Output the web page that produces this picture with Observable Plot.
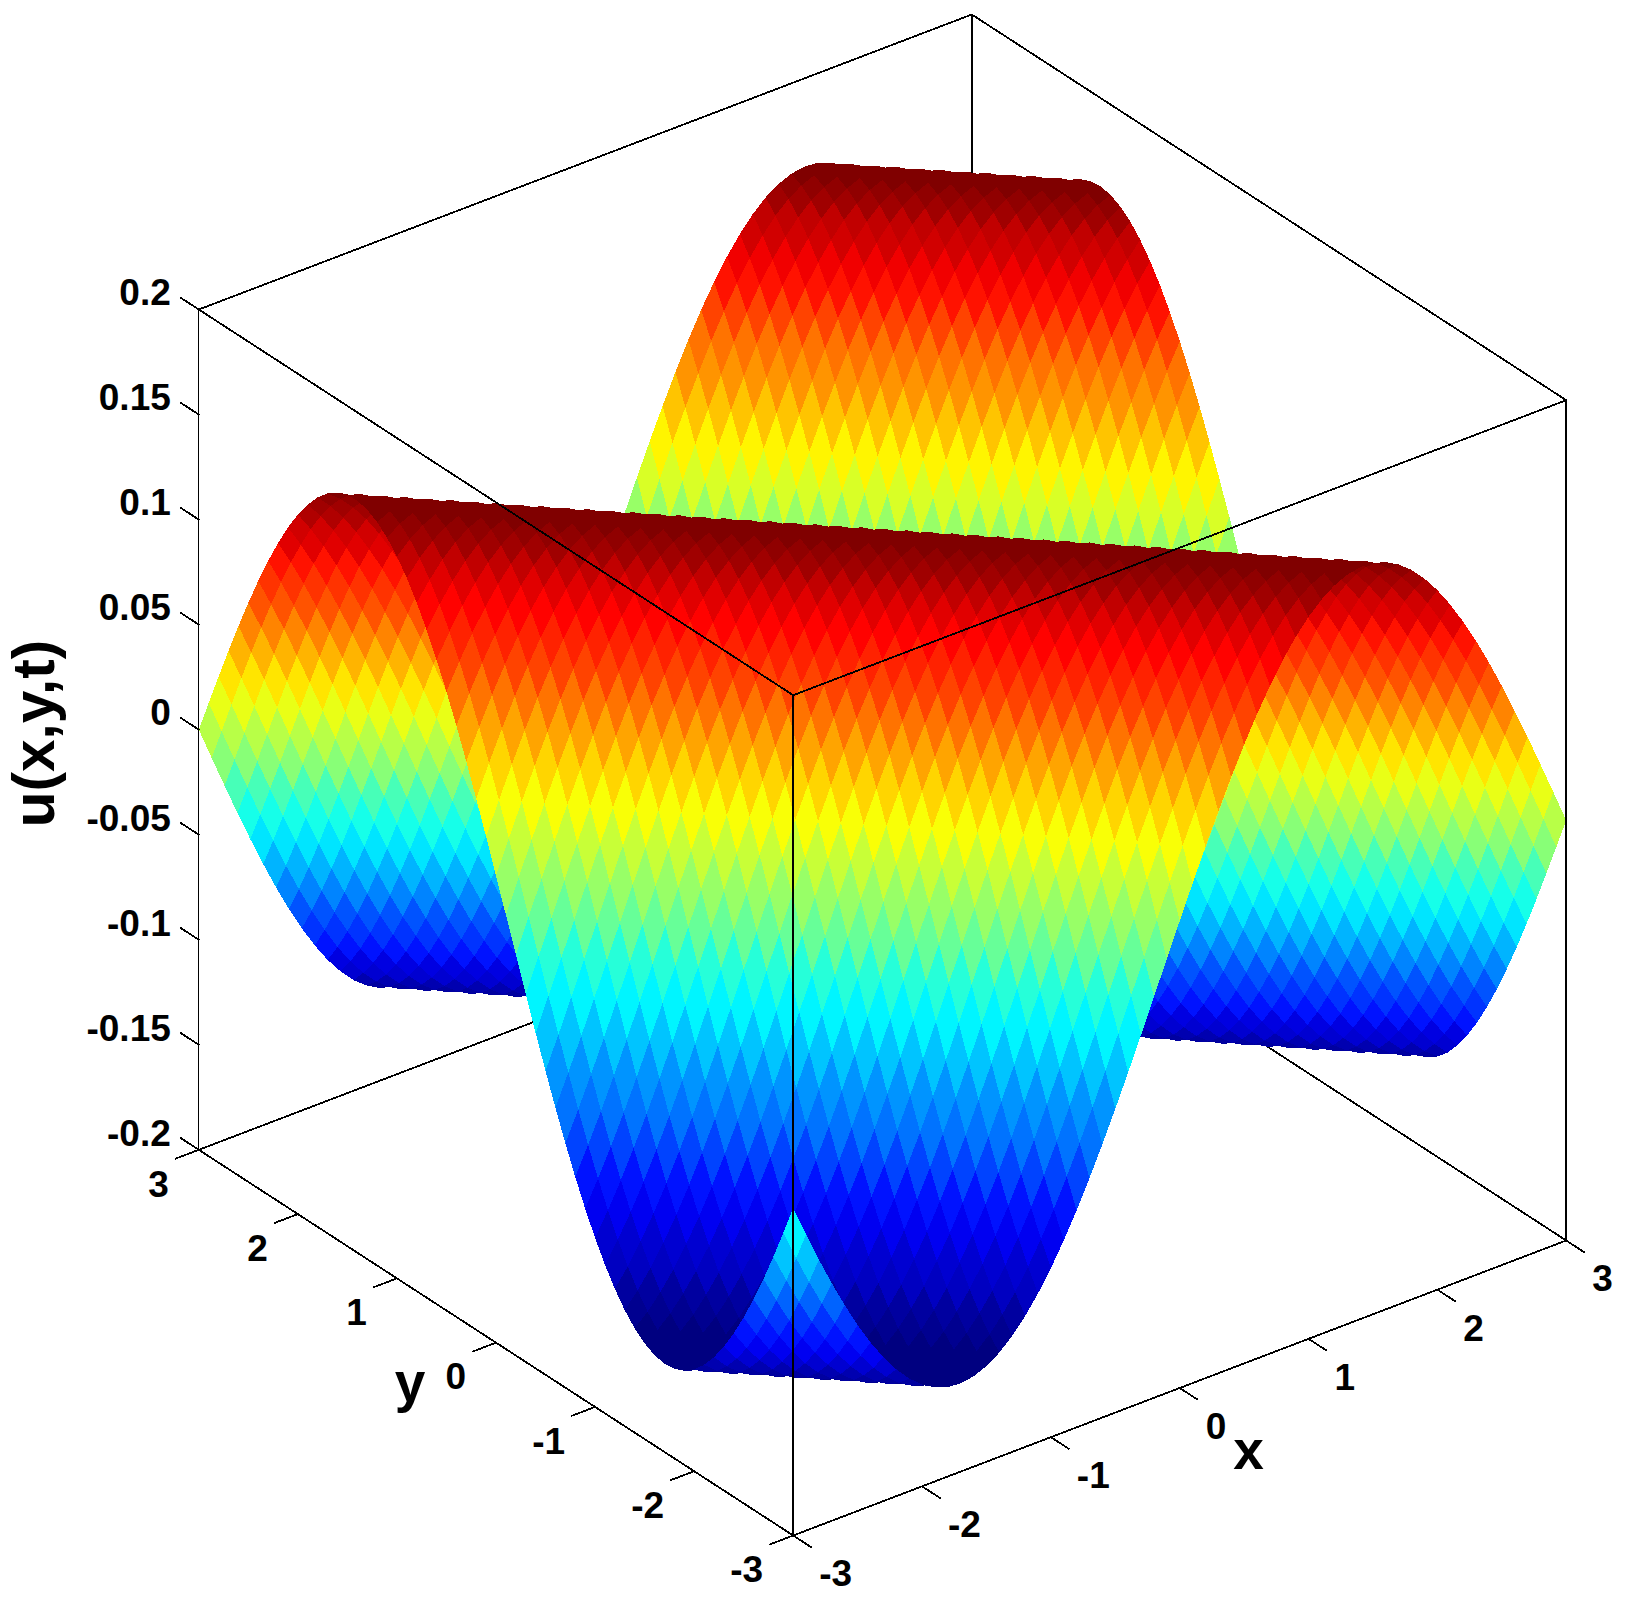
<!DOCTYPE html>
<html>
<head>
<meta charset="utf-8">
<script src="https://cdn.jsdelivr.net/npm/d3@7"></script>
<script src="https://cdn.jsdelivr.net/npm/@observablehq/plot@0.6"></script>
<style>
html,body{margin:0;padding:0;background:#fff;}
svg{display:block;}
</style>
</head>
<body>
<div id="chart"></div>
<script>
// ---- data ----
const gridX = d3.range(61).map(i => -3 + i / 10);
const gridY = d3.range(61).map(i => -3 + i / 10);
// height of the surface along x+y, from x+y = -6 to x+y = 6 in steps of 0.1
const heightAlongDiagonal = [
 -0.0441,-0.0591,-0.0734,-0.0870,-0.0997,-0.1115,-0.1221,-0.1315,-0.1396,-0.1463,
 -0.1515,-0.1552,-0.1574,-0.1580,-0.1570,-0.1544,-0.1504,-0.1448,-0.1377,-0.1293,
 -0.1196,-0.1087,-0.0967,-0.0837,-0.0699,-0.0554,-0.0404,-0.0249,-0.0092,0.0066,
 0.0223,0.0378,0.0529,0.0675,0.0815,0.0946,0.1067,0.1178,0.1277,0.1364,
 0.1437,0.1495,0.1539,0.1567,0.1579,0.1576,0.1557,0.1522,0.1473,0.1408,
 0.1330,0.1238,0.1133,0.1018,0.0892,0.0757,0.0615,0.0467,0.0314,0.0158,
 0,
 -0.0158,-0.0314,-0.0467,-0.0615,-0.0757,-0.0892,-0.1018,-0.1133,-0.1238,-0.1330,
 -0.1408,-0.1473,-0.1522,-0.1557,-0.1576,-0.1579,-0.1567,-0.1539,-0.1495,-0.1437,
 -0.1364,-0.1277,-0.1178,-0.1067,-0.0946,-0.0815,-0.0675,-0.0529,-0.0378,-0.0223,
 -0.0066,0.0092,0.0249,0.0404,0.0554,0.0699,0.0837,0.0967,0.1087,0.1196,
 0.1293,0.1377,0.1448,0.1504,0.1544,0.1570,0.1580,0.1574,0.1552,0.1515,
 0.1463,0.1396,0.1315,0.1221,0.1115,0.0997,0.0870,0.0734,0.0591,0.0441
];
const xTicks = [-3,-2,-1,0,1,2,3];
const yTicks = [-3,-2,-1,0,1,2,3];
const zTicks = [-0.2,-0.15,-0.1,-0.05,0,0.05,0.1,0.15,0.2];
const xTickLabels = ["-3","-2","-1","0","1","2","3"];
const yTickLabels = ["-3","-2","-1","0","1","2","3"];
const zTickLabels = ["-0.2","-0.15","-0.1","-0.05","0","0.05","0.1","0.15","0.2"];
const xTitle = "x", yTitle = "y", zTitle = "u(x,y,t)";

// ---- jet colormap, 64 levels ----
const jetStops = [[0,"#000080"],[0.125,"#0000ff"],[0.375,"#00ffff"],[0.625,"#ffff00"],[0.875,"#ff0000"],[1,"#800000"]];
const jetFn = d3.scaleLinear().domain(jetStops.map(d => d[0])).range(jetStops.map(d => d[1]));
const jet64 = d3.range(64).map(i => d3.rgb(jetFn(i / 63)).formatHex());

// ---- oblique view of the box (orthographic) ----
const W = 1641, H = 1611;
const origin = [792.7, 1535];                 // x=-3, y=-3, z=-0.2
const perX = [773 / 6, -295 / 6];
const perY = [-594.4 / 6, -385.7 / 6];
const perZ = -840.3 / 0.4;
const px = (x, y) => origin[0] + (x + 3) * perX[0] + (y + 3) * perY[0];
const py = (x, y, z) => origin[1] + (x + 3) * perX[1] + (y + 3) * perY[1] + (z + 0.2) * perZ;

// ---- surface cells, far to near ----
const cells = [];
for (let i = gridX.length - 2; i >= 0; i--) {
  for (let j = gridY.length - 2; j >= 0; j--) {
    const id = i * 100 + j;
    const value = heightAlongDiagonal[i + j];
    for (const [a, b] of [[i, j], [i + 1, j], [i + 1, j + 1], [i, j + 1]]) {
      const z = heightAlongDiagonal[a + b];
      cells.push({id, value, sx: px(gridX[a], gridY[b]), sy: py(gridX[a], gridY[b], z)});
    }
  }
}

// ---- box edges ----
const seg = (name, p, q) => [p, q].map(([x, y, z]) => ({edge: name, sx: px(x, y), sy: py(x, y, z)}));
const zLo = -0.2, zHi = 0.2;
const backEdges = [
  ...seg("b1", [3, 3, zLo], [-3, 3, zLo]),
  ...seg("b2", [3, 3, zLo], [3, -3, zLo])
];
const backVertical = seg("b3", [3, 3, zLo], [3, 3, zHi]);
const frontEdges = [
  ...seg("f1", [-3, -3, zLo], [3, -3, zLo]),
  ...seg("f2", [-3, -3, zLo], [-3, 3, zLo]),
  ...seg("f6", [-3, -3, zHi], [3, -3, zHi]),
  ...seg("f7", [-3, -3, zHi], [-3, 3, zHi]),
  ...seg("f8", [3, 3, zHi], [3, -3, zHi]),
  ...seg("f9", [3, 3, zHi], [-3, 3, zHi])
];
const heavyVerticals = [
  ...seg("f3", [-3, -3, zLo], [-3, -3, zHi]),
  ...seg("f4", [3, -3, zLo], [3, -3, zHi])
];
const thinVertical = seg("f5", [-3, 3, zLo], [-3, 3, zHi]);
const tickLen = 0.18;
const tickSegs = [
  ...xTicks.flatMap((t, i) => seg("tx" + i, [t, -3, zLo], [t, -3 - tickLen, zLo])),
  ...yTicks.flatMap((t, i) => seg("ty" + i, [-3, t, zLo], [-3 - tickLen, t, zLo])),
  ...zTicks.flatMap((t, i) => seg("tz" + i, [-3, 3, t], [-3, 3 + tickLen, t]))
];

const labelStyle = {fontFamily: "'Liberation Sans', Arial, sans-serif", fontWeight: "bold", fill: "black"};
const tickText = {...labelStyle, fontSize: 37};
const titleText = {...labelStyle, fontSize: 55};
const lineStyle = {stroke: "black", strokeWidth: 1.8, shapeRendering: "crispEdges", z: "edge", x: "sx", y: "sy"};

const chart = Plot.plot({
  width: W, height: H,
  marginTop: 0, marginRight: 0, marginBottom: 0, marginLeft: 0,
  style: {background: "white", overflow: "visible"},
  x: {type: "linear", domain: [0, W], range: [0, W], axis: null},
  y: {type: "linear", domain: [0, H], range: [0, H], axis: null},
  color: {type: "quantize", domain: [-0.158, 0.158], range: jet64, legend: false},
  marks: [
    Plot.line(backEdges, lineStyle),
    Plot.line(backVertical, {...lineStyle, strokeWidth: 2}),
    Plot.line(cells, {x: "sx", y: "sy", z: "id", fill: "value", stroke: "none", curve: "linear-closed", shapeRendering: "crispEdges"}),
    Plot.line(frontEdges, lineStyle),
    Plot.line(heavyVerticals, {...lineStyle, strokeWidth: 2}),
    Plot.line(thinVertical, {...lineStyle, strokeWidth: 1}),
    Plot.line(tickSegs, lineStyle),
    Plot.text(xTickLabels, {...tickText, x: (d, i) => px(xTicks[i], -3), y: (d, i) => py(xTicks[i], -3, zLo), text: d => d, textAnchor: "start", dx: 26, dy: 39}),
    Plot.text(yTickLabels, {...tickText, x: (d, i) => px(-3, yTicks[i]), y: (d, i) => py(-3, yTicks[i], zLo), text: d => d, textAnchor: "end", dx: -30, dy: 35}),
    Plot.text(zTickLabels, {...tickText, x: (d, i) => px(-3, 3), y: (d, i) => py(-3, 3, zTicks[i]), text: d => d, textAnchor: "end", dx: -28, dy: -16}),
    Plot.text([xTitle], {...titleText, x: () => 1248, y: () => 1451, text: d => d, textAnchor: "middle"}),
    Plot.text([yTitle], {...titleText, x: () => 409.5, y: () => 1383, text: d => d, textAnchor: "middle"}),
    Plot.text([zTitle], {...titleText, fontSize: 58.5, x: () => 34.5, y: () => 733, text: d => d, textAnchor: "middle", rotate: -90})
  ]
});
document.getElementById("chart").appendChild(chart);
</script>
</body>
</html>
